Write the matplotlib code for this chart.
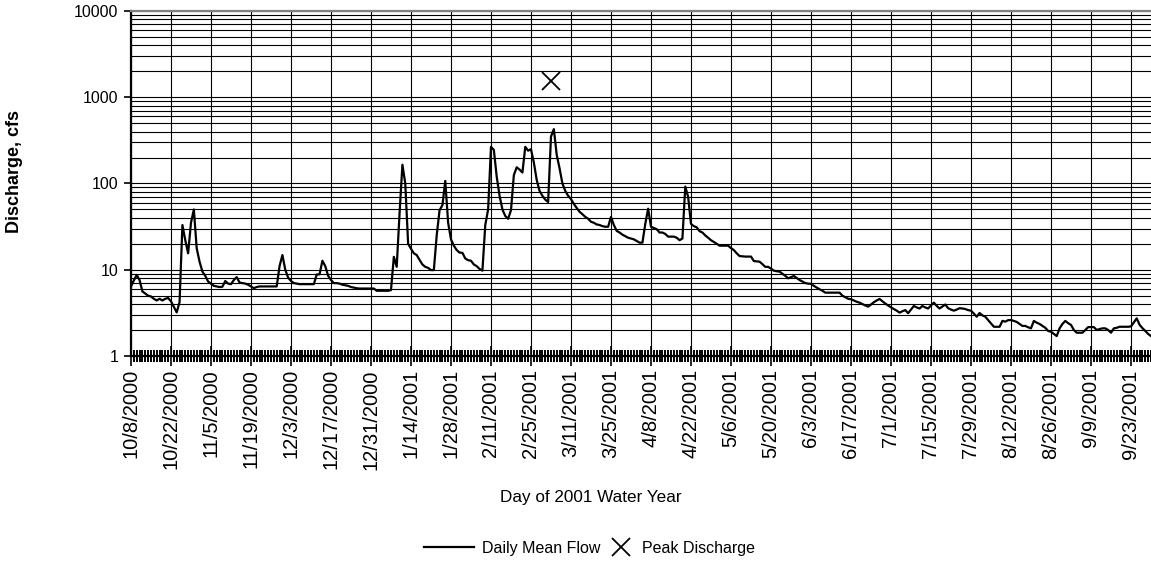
import numpy as np
import pandas as pd
import matplotlib
matplotlib.use('Agg')
import matplotlib.pyplot as plt
import matplotlib.dates as mdates
from matplotlib.ticker import NullFormatter, LogLocator

plt.rcParams['font.family'] = ['Liberation Sans', 'DejaVu Sans']

# --- daily mean flow, cfs (10/8/2000 .. 9/30/2001) ---
flow = [
    6.4, 7.5, 8.7, 7.6, 5.6, 5.3, 5.0, 4.9, 4.6, 4.4, 4.6, 4.4, 4.6, 4.7,
    4.3, 3.7, 3.2, 4.2, 33, 22, 15.5, 35, 50, 17.7, 12.4, 9.5, 8.5, 7.3,
    6.9, 6.5, 6.4, 6.3, 6.35, 7.4, 6.9, 6.8, 7.6, 8.2, 7.1, 7.0, 6.9, 6.7,
    6.4, 6.1, 6.3, 6.4, 6.4, 6.4, 6.4, 6.4, 6.4, 6.4, 11, 14.8, 10, 8.1,
    7.4, 7.0, 6.9, 6.8, 6.8, 6.8, 6.8, 6.8, 6.8, 8.8, 8.85, 12.7, 11.0, 8.5,
    7.6, 7.0, 7.0, 6.9, 6.7, 6.6, 6.5, 6.3, 6.2, 6.1, 6.05, 6.05, 6.05, 6.05,
    6.05, 6.05, 5.7, 5.7, 5.7, 5.7, 5.7, 5.8, 14.1, 10.8, 45, 165, 100, 20,
    17.5, 15.5, 14.8, 13.0, 11.5, 10.8, 10.5, 9.9, 9.9, 25, 49, 56, 107, 35,
    22.5, 19, 16.9, 15.8, 15.7, 13.5, 12.9, 12.7, 11.5, 11.0, 10.2, 9.75, 33, 50,
    266, 245, 120, 72, 50, 42, 39, 49, 125, 154, 145, 134, 266, 240,
    250, 175, 110, 82, 72, 65, 61, 350, 427, 215, 150, 100, 82, 72,
    66, 58, 52, 47, 44, 41, 39, 36, 35, 33.5, 33, 32, 31.5, 31.5,
    41, 33, 28.2, 27, 25.5, 24.5, 23.5, 23, 22.5, 21.5, 20.6, 20.6, 34, 51,
    31.5, 30.5, 29.5, 27, 27, 26, 24.2, 24.2, 24.2, 23.5, 22, 23, 92, 70,
    34, 32, 31, 28, 27, 25, 23.5, 22, 21, 20, 19, 19, 19, 19,
    17.8, 16.9, 15.5, 14.4, 14.3, 14.2, 14.2, 14.2, 12.6, 12.5, 12.4, 11.6, 10.8, 10.8,
    10.3, 9.75, 9.6, 9.5, 9.0, 8.5, 7.95, 8.2, 8.45, 8.0, 7.6, 7.3, 7.0, 6.9,
    6.85, 6.5, 6.2, 5.93, 5.7, 5.42, 5.42, 5.42, 5.42, 5.42, 5.42, 5.0, 4.8, 4.6,
    4.55, 4.4, 4.25, 4.15, 4.0, 3.85, 3.73, 3.95, 4.2, 4.4, 4.58, 4.3, 4.05, 3.85,
    3.66, 3.5, 3.35, 3.18, 3.3, 3.4, 3.13, 3.45, 3.8, 3.65, 3.55, 3.8, 3.65, 3.55,
    3.85, 4.15, 3.8, 3.55, 3.75, 3.95, 3.58, 3.45, 3.35, 3.45, 3.58, 3.55, 3.5, 3.4,
    3.35, 3.1, 2.85, 3.15, 2.95, 2.85, 2.61, 2.4, 2.18, 2.18, 2.18, 2.55, 2.5, 2.6,
    2.61, 2.55, 2.48, 2.35, 2.23, 2.23, 2.15, 2.09, 2.55, 2.43, 2.35, 2.23, 2.12, 1.95,
    1.91, 1.8, 1.7, 2.09, 2.35, 2.55, 2.4, 2.29, 2.0, 1.86, 1.86, 1.86, 2.0, 2.16,
    2.16, 2.16, 2.0, 2.05, 2.09, 2.09, 2.0, 1.86, 2.09, 2.12, 2.18, 2.18, 2.18, 2.18,
    2.2, 2.45, 2.73, 2.3, 2.1, 1.95, 1.8, 1.7,
]
dates = pd.date_range('2000-10-08', periods=len(flow), freq='D')

# peak discharge
peak_date = pd.Timestamp('2001-03-04')
peak_value = 1550

tick_labels = ['10/8/2000', '10/22/2000', '11/5/2000', '11/19/2000', '12/3/2000',
               '12/17/2000', '12/31/2000', '1/14/2001', '1/28/2001', '2/11/2001',
               '2/25/2001', '3/11/2001', '3/25/2001', '4/8/2001', '4/22/2001',
               '5/6/2001', '5/20/2001', '6/3/2001', '6/17/2001', '7/1/2001',
               '7/15/2001', '7/29/2001', '8/12/2001', '8/26/2001', '9/9/2001',
               '9/23/2001']
tick_dates = pd.to_datetime(tick_labels, format='%m/%d/%Y')
y_ticks = [1, 10, 100, 1000, 10000]

fig = plt.figure(figsize=(11.51, 5.65), dpi=100)
ax = fig.add_axes([0.1138, 0.370, 0.8862, 0.6105])

line, = ax.plot(dates, flow, color='black', lw=1.6, label='Daily Mean Flow', zorder=3)
mark, = ax.plot([peak_date], [peak_value], linestyle='none', marker='x', color='black',
                ms=13, mew=1.3, label='Peak Discharge', zorder=3)

ax.set_yscale('log')
ax.set_ylim(1, 10000)
ax.set_xlim(dates[0], dates[-1])

ax.set_yticks(y_ticks)
ax.set_yticklabels([str(v) for v in y_ticks], fontsize=11.5)
ax.yaxis.set_minor_locator(LogLocator(base=10, subs=np.arange(2, 10)))
ax.yaxis.set_minor_formatter(NullFormatter())

ax.set_xticks(tick_dates)
ax.set_xticklabels(tick_labels, rotation=90, fontsize=14.5)
ax.xaxis.set_minor_locator(mdates.DayLocator())

ax.grid(which='major', axis='both', color='black', lw=0.8)
ax.grid(which='minor', axis='y', color='black', lw=0.8)

ax.tick_params(axis='x', which='major', direction='inout', length=15, width=1.2, pad=2)
ax.tick_params(axis='x', which='minor', direction='inout', length=8, width=1.4)
ax.tick_params(axis='y', which='major', direction='out', length=5, width=1.2, pad=4)
ax.tick_params(axis='y', which='minor', length=0)

for s in ['left', 'bottom']:
    ax.spines[s].set_linewidth(1.6)
ax.spines['top'].set_color('#808080')
ax.spines['top'].set_linewidth(1.6)
ax.spines['right'].set_visible(False)

fig.text(0.513, 0.1186, 'Day of 2001 Water Year', ha='center', va='center', fontsize=12.3)
fig.text(0.013, 0.6956, 'Discharge, cfs', ha='center', va='center', rotation=90,
         fontsize=13, fontweight='bold')

# Excel-style legend: two entries with their own handle widths
fig.legend(handles=[line], loc='center left', bbox_to_anchor=(424 / 1151, 0.03),
           frameon=False, fontsize=11.5, handlelength=3.1, handletextpad=0.5,
           borderpad=0, borderaxespad=0)
fig.legend(handles=[mark], loc='center left', bbox_to_anchor=(613 / 1151, 0.03),
           frameon=False, fontsize=11.5, handlelength=1.0, handletextpad=0.8,
           borderpad=0, borderaxespad=0)

fig.savefig('out.png', dpi=100)
